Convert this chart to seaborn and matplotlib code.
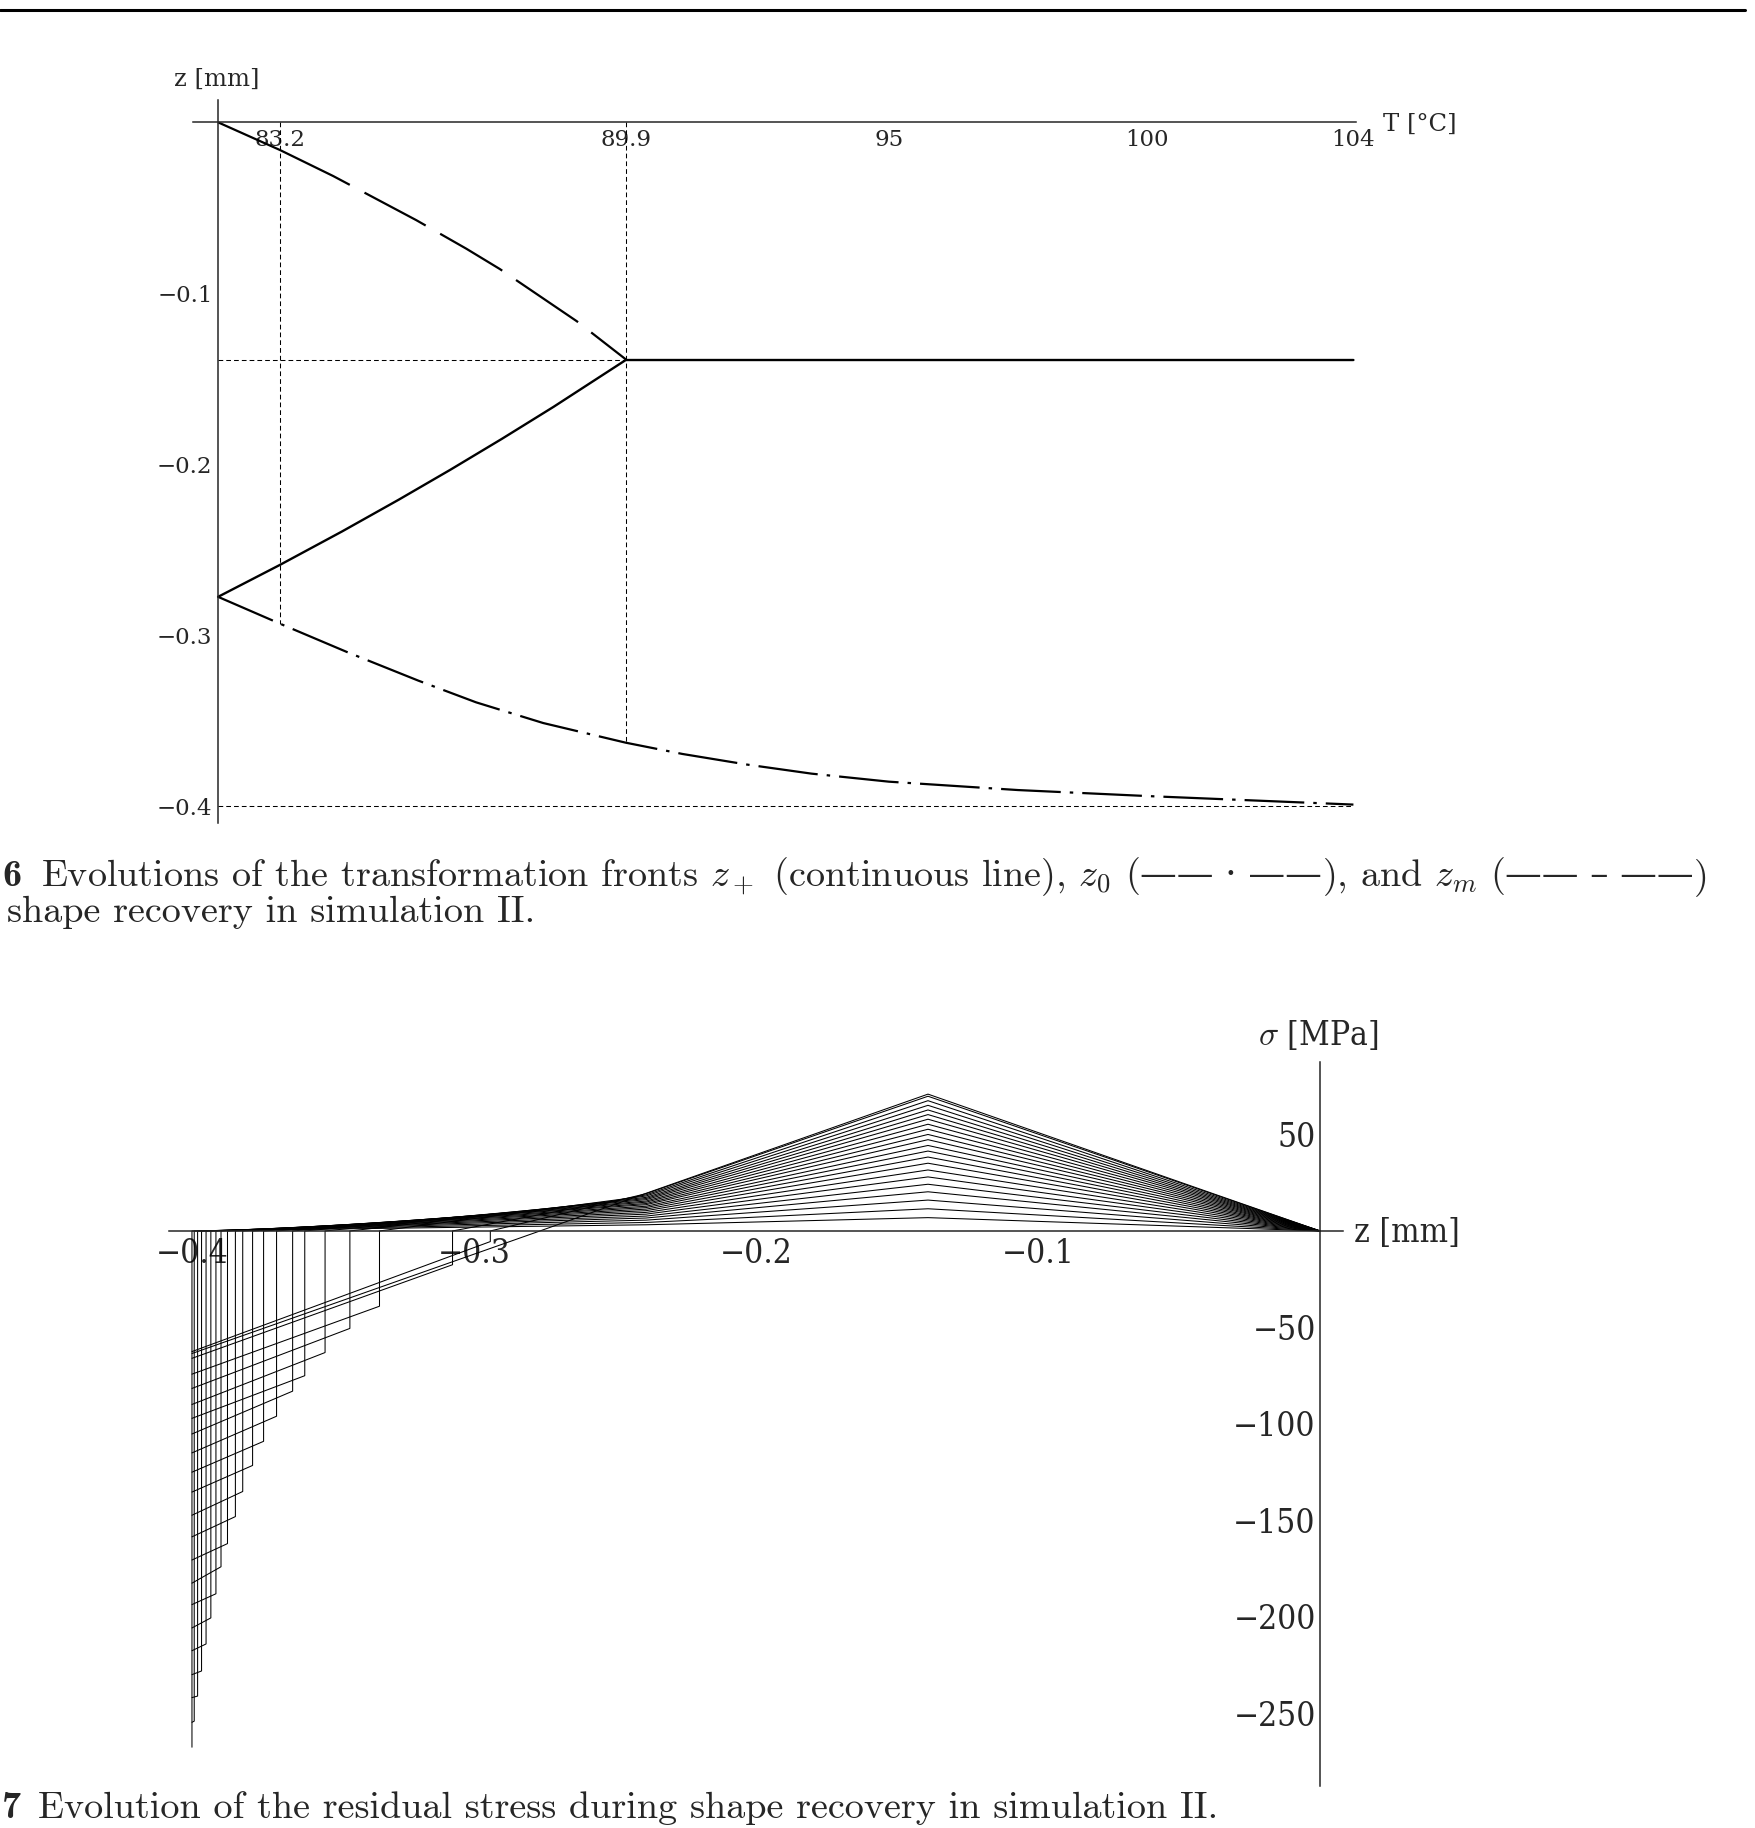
import numpy as np
import pandas as pd
import seaborn as sns
import matplotlib.pyplot as plt
from matplotlib.lines import Line2D

# Data - Fig. 6: transformation fronts vs temperature
# ==============================================================================
t_zm = [82.0, 83.2, 84.23, 85.84, 86.81, 87.46, 88.95, 89.9]
zm = [0.0, -0.0162, -0.0314, -0.0572, -0.0739, -0.0858, -0.1163, -0.1386]

t_zp = [82.0, 83.2, 84.4, 85.5, 86.5, 87.5, 88.5, 89.9, 104.0]
zp = [-0.2775, -0.2588, -0.2393, -0.2207, -0.2032, -0.1851, -0.1664, -0.1390, -0.1390]

t_z0 = [82.0, 83.2, 84.5, 85.88, 87.0, 88.3, 89.9, 91.0, 92.25, 93.5, 95.0,
        97.5, 100.0, 102.0, 104.0]
z0 = [-0.2775, -0.2932, -0.3098, -0.3265, -0.3392, -0.3513, -0.3628, -0.3694,
      -0.3756, -0.3809, -0.3856, -0.3905, -0.394, -0.3965, -0.399]

t_ticks = [83.2, 89.9, 95, 100, 104]
t_minor = [83, 84, 85, 87, 88, 89, 90, 91, 92, 93, 94, 96, 97, 98, 99, 101, 102, 103]
z_ticks = [-0.4, -0.3, -0.2, -0.1]

# Data - Fig. 7: residual stress profiles (one per time step)
# ==============================================================================
z_kink = -0.139
z_mid = -0.239
z_end = -0.4
peak = [70.9, 69.8, 67.5, 65.1, 62.7, 60.3, 57.9, 55.3, 52.7, 50.0, 47.3,
        44.3, 41.4, 38.3, 35.1, 31.6, 28.0, 24.2, 20.3, 16.0, 11.5, 6.9]
mid = [19.5, 19.3, 18.7, 18.1, 17.4, 16.8, 16.2, 15.5, 14.9, 14.2, 13.6,
       12.8, 12.1, 11.3, 10.5, 9.6, 8.7, 7.7, 6.7, 5.6, 4.4, 3.2]
front = [-0.2766, -0.2942, -0.3076, -0.3335, -0.344, -0.3528, -0.36, -0.3643,
         -0.37, -0.3746, -0.3785, -0.382, -0.3846, -0.3874, -0.3897, -0.3915,
         -0.3933, -0.395, -0.3966, -0.398, -0.3992, -0.4]
jump = [0.0, 5.5, 17.5, 39.0, 50.5, 63.0, 75.0, 83.0, 96.0, 109.0, 121.5,
        135.0, 148.0, 162.0, 174.0, 188.0, 200.5, 214.0, 228.0, 241.0, 254.0, 267.5]
end = [63.5, 62.5, 66.0, 74.2, 81.6, 89.9, 97.1, 105.2, 115.0, 125.0, 135.3,
       147.3, 158.5, 170.5, 182.5, 193.6, 205.7, 217.5, 229.9, 241.8, 254.6, 267.5]

s_ticks = [50, -50, -100, -150, -200, -250]
zz_ticks = [-0.4, -0.3, -0.2, -0.1]

rows = []
for k in range(len(peak)):
    zs = [0.0, z_kink, z_mid, front[k], front[k], z_end]
    ss = [0.0, peak[k], mid[k], 0.0, -jump[k], -end[k]]
    for z, s in zip(zs, ss):
        rows.append({'profile': k, 'z': z, 'sigma': s})
prof = pd.DataFrame(rows)

# Style
# ==============================================================================
sns.set_style("white")
plt.rcParams.update({
    'font.family': ['DejaVu Serif'],
    'mathtext.fontset': 'cm',
    'lines.scale_dashes': False,
    'axes.linewidth': 1.1,
})

W, H = 1756, 1828
fig = plt.figure(figsize=(W / 100, H / 100), dpi=100)
renderer = fig.canvas.get_renderer()

def box(x0, x1, y0, y1):
    # pixel box -> figure fraction
    return [x0 / W, 1 - y1 / H, (x1 - x0) / W, (y1 - y0) / H]

def write(pieces, x, y):
    # put text pieces one after the other on a baseline (pixel coords)
    for txt, kw in pieces:
        t = fig.text(x / W, 1 - y / H, txt, va='baseline', **kw)
        x = t.get_window_extent(renderer).x1

# Top rule of the page
fig.add_artist(Line2D([0, 1745 / W], [1 - 10 / H] * 2, color='black', lw=2.2,
                      transform=fig.transFigure))

# Graph 1 - fronts
# ==============================================================================
ax1 = fig.add_axes(box(193.3, 1356, 100.1, 823.4))
ax1.set_xlim(81.52, 104.05)
ax1.set_ylim(-0.41, 0.013)

# reference dotted lines
dot = dict(color='black', lw=0.75, linestyle=(0, (3.4, 2.2)))
ax1.plot([t_zm[1], t_zm[1]], [0, z0[1]], **dot)
ax1.plot([t_z0[6], t_z0[6]], [0, z0[6]], **dot)
ax1.plot([82, t_z0[6]], [zp[-1], zp[-1]], **dot)
ax1.plot([82, 104], [-0.4, -0.4], **dot)

sns.lineplot(x=t_zp, y=zp, sort=False, color='black', lw=1.7, ax=ax1)
sns.lineplot(x=t_zm, y=zm, sort=False, color='black', lw=1.6, ax=ax1)
ax1.lines[-1].set_linestyle((0, (105, 12, 50, 12, 52, 12, 54, 12, 56, 12, 56, 12)))
sns.lineplot(x=t_z0, y=z0, sort=False, color='black', lw=1.6, ax=ax1)
ax1.lines[-1].set_linestyle((0, (43, 6.5, 2.5, 6.5)))

for s in ['top', 'right']:
    ax1.spines[s].set_visible(False)
ax1.spines['bottom'].set_position(('data', 0))
ax1.spines['left'].set_position(('data', 82))
ax1.set_xticks(t_ticks, [f'{t:g}' for t in t_ticks], fontsize=16.5)
ax1.set_xticks(t_minor, minor=True)
ax1.set_yticks(z_ticks, [f'\u2212{abs(z):.1f}' for z in z_ticks], fontsize=16.5)
ax1.set_yticks(np.round(np.arange(-0.40, 0.0, 0.02), 2), minor=True)
ax1.tick_params(axis='both', which='both', direction='in', width=1.0)
ax1.tick_params(axis='both', which='major', length=8)
ax1.tick_params(axis='both', which='minor', length=6)
ax1.tick_params(axis='x', pad=5)
ax1.tick_params(axis='y', pad=4)
ax1.set_xlabel('')
ax1.set_ylabel('')
ax1.patch.set_alpha(0)

fig.text(217 / W, 1 - 79 / H, 'z [mm]', fontsize=17.5, ha='center', va='center')
fig.text(1383 / W, 1 - 124 / H, 'T [°C]', fontsize=17.5, ha='left', va='center')

# Caption 6
cm = dict(fontsize=27.5, family='cmr10')
dj = dict(fontsize=26.5, family='DejaVu Serif')
write([('6', dict(fontsize=27.5, family='cmb10'))], 2, 886)
write([(r'Evolutions of the transformation fronts $z_+$ (continuous line), $z_0$ (', cm),
       ('—— · ——', dj),
       (r'), and $z_m$ (', cm),
       ('—— – ——', dj),
       (')', cm)], 41, 886)
write([('shape recovery in simulation II.', cm)], 7, 922)

# Graph 2 - residual stress
# ==============================================================================
ax2 = fig.add_axes(box(169.4, 1343.1, 1061.7, 1786))
sns.lineplot(data=prof, x='z', y='sigma', units='profile', estimator=None,
             sort=False, color='black', lw=0.75, ax=ax2)
ax2.set_xlim(-0.408, 0.0082)
ax2.set_ylim(-287.6, 87.7)

for s in ['top', 'right']:
    ax2.spines[s].set_visible(False)
ax2.spines['bottom'].set_position(('data', 0))
ax2.spines['left'].set_position(('data', 0))
big = dict(fontsize=24, fontstretch='condensed')
ax2.set_xticks(zz_ticks, [f'\u2212{abs(z):.1f}' for z in zz_ticks], **big)
ax2.set_xticks(np.round(np.arange(-0.40, 0.0, 0.02), 2), minor=True)
ax2.set_yticks(s_ticks, [f'{s:d}'.replace('-', '\u2212') for s in s_ticks], **big)
ax2.set_yticks(np.arange(-280, 90, 10), minor=True)
ax2.tick_params(axis='both', which='both', direction='in', width=1.0)
ax2.tick_params(axis='both', which='major', length=7)
ax2.tick_params(axis='both', which='minor', length=5)
ax2.tick_params(axis='x', pad=5)
ax2.tick_params(axis='y', pad=3)
ax2.set_xlabel('')
ax2.set_ylabel('')
ax2.patch.set_alpha(0)

fig.text(1318 / W, 1 - 1035 / H, r'$\sigma$ [MPa]', ha='center', va='center', **big)
fig.text(1354 / W, 1 - 1233 / H, 'z [mm]', ha='left', va='center', **big)

# Caption 7 (bottom of the page)
write([('7', dict(fontsize=27.5, family='cmb10'))], 2, 1818)
write([('Evolution of the residual stress during shape recovery in simulation II.', cm)],
      38, 1818)

fig.savefig('out.png', dpi=100)
